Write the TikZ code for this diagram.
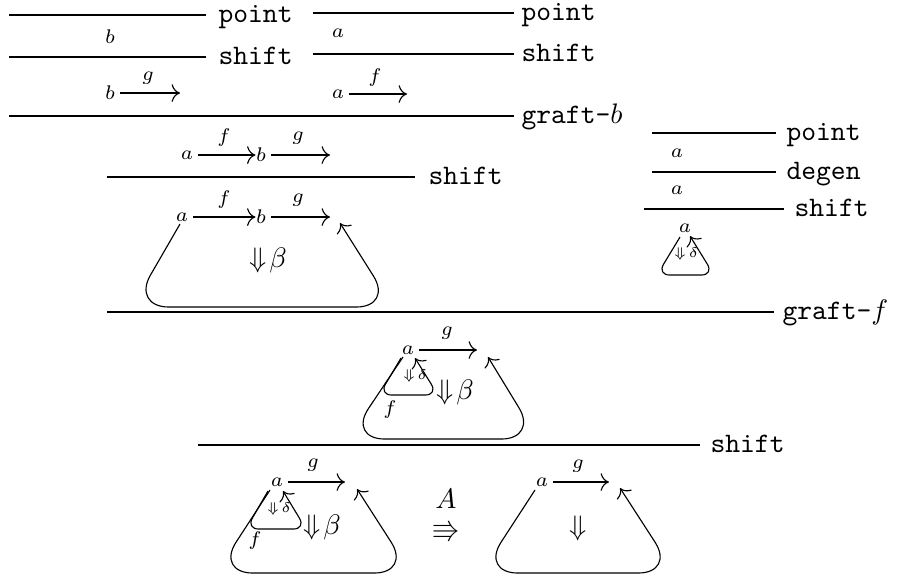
\documentclass[tikz,border=0pt]{standalone}
\usepackage{amssymb}
\usetikzlibrary{arrows.meta}
\begin{document}
\begin{tikzpicture}[x=0.3546pt,y=-0.3546pt,
  >={To[scale=1.2]},
  rulel/.style={line width=0.4pt},
  rname/.style={anchor=base west, inner sep=0pt, font=\ttfamily},
  obj/.style={inner sep=0pt, font=\scriptsize},
  lbl/.style={inner sep=0pt, font=\scriptsize},
  mor/.style={->, shorten <=1.5pt},
  bigloop/.style={->, rounded corners=13pt},
  smallloop/.style={->, rounded corners=4.5pt},
  cell/.style={inner sep=0pt},
  tcell/.style={inner sep=0pt, font=\tiny}]
\useasboundingbox (0,0) rectangle (899,576);

% ---------- top left: b / shift / b -g->
\draw[rulel] (9,15) -- (206,15);
\node[rname] (pt1) at (218,22.5) {point};
\node[obj] (b1) at (110,37) {$b$};
\draw[rulel] (9,57) -- (206,57);
\node[rname] (sh1) at (218,64.5) {shift};
\node[obj] (b2) at (110,93) {$b$};
\coordinate (b2e) at (180,93);
\draw[mor] (b2) -- (b2e);
\node[lbl] (g1) at (148,78) {$g$};

% ---------- top right: a / shift / a -f->
\draw[rulel] (313,13) -- (514,13);
\node[rname] (pt2) at (521,20.5) {point};
\node[obj] (a1) at (338,33) {$a$};
\draw[rulel] (313,54) -- (514,54);
\node[rname] (sh2) at (521,61.5) {shift};
\node[obj] (a2) at (338,94) {$a$};
\coordinate (a2e) at (407,94);
\draw[mor] (a2) -- (a2e);
\node[lbl] (f1) at (375,78) {$f$};

% ---------- graft-b
\draw[rulel] (9,116) -- (514,116);
\node[rname] (gb) at (521,123.5) {graft-$b$};

% ---------- a -f-> b -g->
\node[obj] (a3) at (187,155) {$a$};
\node[obj] (b3) at (261,155) {$b$};
\coordinate (b3e) at (330,155);
\draw[mor] (a3) -- (b3);
\draw[mor] (b3) -- (b3e);
\node[lbl] (f2) at (224,138) {$f$};
\node[lbl] (g2) at (298,138) {$g$};
\draw[rulel] (107,177) -- (415,177);
\node[rname] (sh3) at (428,184.5) {shift};

% ---------- with beta loop
\node[obj] (a4) at (182,217) {$a$};
\node[obj] (b4) at (261,217) {$b$};
\coordinate (b4e) at (330,217);
\draw[mor] (a4) -- (b4);
\draw[mor] (b4) -- (b4e);
\node[lbl] (f3) at (224,200) {$f$};
\node[lbl] (g3) at (298,200) {$g$};
\coordinate (l1s) at (180,224);
\coordinate (l1t) at (340,223);
\draw[bigloop] (l1s) -- (132,307) -- (393,307) -- (l1t);
\node[cell] (beta1) at (268,260) {$\Downarrow\!\beta$};

% ---------- right small tree
\draw[rulel] (652,133) -- (776,133);
\node[rname] (pt3) at (786,140.5) {point};
\node[obj] (a5) at (677,153) {$a$};
\draw[rulel] (652,172) -- (776,172);
\node[rname] (dg) at (786,179.5) {degen};
\node[obj] (a6) at (677,190) {$a$};
\draw[rulel] (644,209) -- (784,209);
\node[rname] (sh4) at (794,216.5) {shift};
\node[obj] (a7) at (685,228) {$a$};
\coordinate (l2s) at (680,237);
\coordinate (l2t) at (690,236);
\draw[smallloop] (l2s) -- (657,275) -- (714,275) -- (l2t);
\node[tcell] (del1) at (686,254) {$\Downarrow\!\delta$};

% ---------- graft-f
\draw[rulel] (107,312) -- (774,312);
\node[rname] (gf) at (782,319.5) {graft-$f$};

% ---------- middle
\node[obj] (a8) at (408,350) {$a$};
\coordinate (a8e) at (477,350);
\draw[mor] (a8) -- (a8e);
\node[lbl] (g4) at (447,333) {$g$};
\coordinate (l3s) at (403,357);
\coordinate (l3t) at (488,357);
\draw[bigloop] (l3s) -- (348,439) -- (538,439) -- (l3t);
\coordinate (l4s) at (401,358);
\coordinate (l4t) at (415,358);
\draw[smallloop] (l4s) -- (379,395) -- (438,395) -- (l4t);
\node[tcell] (del2) at (415,376) {$\Downarrow\!\delta$};
\node[lbl] (f4) at (390,410) {$f$};
\node[cell] (beta2) at (455,392) {$\Downarrow\!\beta$};

% ---------- shift
\draw[rulel] (198,445) -- (700,445);
\node[rname] (sh5) at (710,452.5) {shift};

% ---------- bottom left
\node[obj] (a9) at (277,482) {$a$};
\coordinate (a9e) at (345,482);
\draw[mor] (a9) -- (a9e);
\node[lbl] (g5) at (313,465) {$g$};
\coordinate (l5s) at (270,490);
\coordinate (l5t) at (357,489);
\draw[bigloop] (l5s) -- (216,573) -- (411,573) -- (l5t);
\coordinate (l6s) at (268,491);
\coordinate (l6t) at (283,491);
\draw[smallloop] (l6s) -- (246,529) -- (306,529) -- (l6t);
\node[tcell] (del3) at (279,509) {$\Downarrow\!\delta$};
\node[lbl] (f5) at (255,541) {$f$};
\node[cell] (beta3) at (322,527) {$\Downarrow\!\beta$};

% ---------- A triple arrow
\node[cell, align=center] (A) at (446,516) {$A$\\[-1.5pt]$\Rrightarrow$};

% ---------- bottom right
\node[obj] (a10) at (542,482) {$a$};
\coordinate (a10e) at (609,482);
\draw[mor] (a10) -- (a10e);
\node[lbl] (g6) at (578,466) {$g$};
\coordinate (l7s) at (535,490);
\coordinate (l7t) at (620,488);
\draw[bigloop] (l7s) -- (481,573) -- (675,573) -- (l7t);
\node[cell] (dn) at (578,528) {$\Downarrow$};
\end{tikzpicture}
\end{document}
